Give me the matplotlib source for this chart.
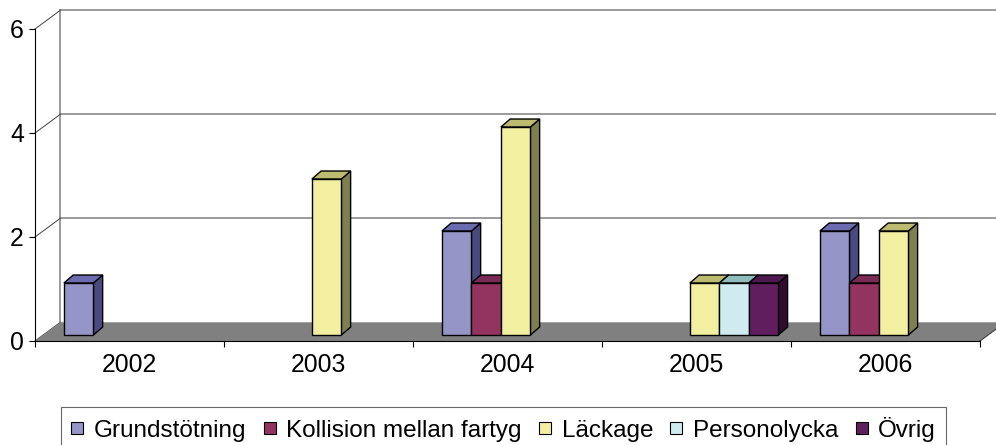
import matplotlib.pyplot as plt
from matplotlib.patches import Polygon
from matplotlib.lines import Line2D

years = ['2002', '2003', '2004', '2005', '2006']
series = ['Grundstötning', 'Kollision mellan fartyg', 'Läckage', 'Personolycka', 'Övrig']
grund = [1, 0, 2, 0, 2]
kollision = [0, 0, 1, 0, 1]
lackage = [0, 3, 4, 1, 2]
person = [0, 0, 0, 1, 0]
ovrig = [0, 0, 0, 1, 0]
yticks = [0, 2, 4, 6]

# face colours per series: front, top, right side
front_col = ['#9595c8', '#933360', '#f2f0a0', '#d0ebf0', '#601e5e']
top_col = ['#6b6bb0', '#7a2a55', '#bdbb70', '#90bcbc', '#4e1850']
side_col = ['#4a4a80', '#4a1a30', '#807f50', '#688890', '#300c30']

plt.rcParams['font.family'] = ['Liberation Sans', 'DejaVu Sans']

fig = plt.figure(figsize=(9.96, 4.45), dpi=100)
ax = fig.add_axes([35/996, 104/445, 945/996, 312/445])
ax.set_xlim(0, len(years))
ax.set_ylim(0, 6)
ax.patch.set_visible(False)

# 3d depth offsets (data units)
wall_dx, wall_dy = 0.134, 0.36
base_dx, base_dy = 0.043, 0.115
bar_dx, bar_dy = 0.049, 0.154
bw = 0.156
n = len(years)

# floor
ax.add_patch(Polygon([(0, 0), (n, 0), (n + wall_dx, wall_dy), (wall_dx, wall_dy)],
                     closed=True, fc='#808080', ec='none', clip_on=False, zorder=1))
ax.plot([n, n + wall_dx], [0, wall_dy], color='#404040', lw=0.8, clip_on=False, zorder=1.5)

# back wall grid + side wall
for y in yticks[1:]:
    ax.plot([wall_dx, n + wall_dx], [y + wall_dy] * 2, color='#808080', lw=1.1,
            clip_on=False, zorder=0.5)
ax.plot([wall_dx, wall_dx], [wall_dy, 6 + wall_dy], color='#808080', lw=1.1,
        clip_on=False, zorder=0.5)
for y in yticks:
    ax.plot([0, wall_dx], [y, y + wall_dy], color='#404040', lw=0.7,
            clip_on=False, zorder=0.6)

# bars
all_vals = [grund, kollision, lackage, person, ovrig]
for i in range(n):
    for j, vals in enumerate(all_vals):
        v = vals[i]
        if v == 0:
            continue
        x0 = i + (1 - len(series) * bw) / 2 + j * bw + base_dx
        y0 = base_dy
        x1 = x0 + bw
        y1 = y0 + v
        z = 3 + i * 10 + j
        side = [(x1, y0), (x1 + bar_dx, y0 + bar_dy), (x1 + bar_dx, y1 + bar_dy), (x1, y1)]
        top = [(x0, y1), (x1, y1), (x1 + bar_dx, y1 + bar_dy), (x0 + bar_dx, y1 + bar_dy)]
        front = [(x0, y0), (x1, y0), (x1, y1), (x0, y1)]
        ax.add_patch(Polygon(side, fc=side_col[j], ec='black', lw=1.0, zorder=z, clip_on=False))
        ax.add_patch(Polygon(top, fc=top_col[j], ec='black', lw=1.0, zorder=z, clip_on=False))
        ax.add_patch(Polygon(front, fc=front_col[j], ec='black', lw=1.0, zorder=z, clip_on=False))

# axes
for s in ['top', 'right']:
    ax.spines[s].set_visible(False)
ax.spines['left'].set_linewidth(0.8)
ax.spines['bottom'].set_linewidth(0.8)
ax.set_yticks(yticks)
ax.tick_params(axis='y', length=4, width=0.8, pad=4, labelsize=17.8)
ax.set_xticks(range(n + 1))
ax.set_xticklabels([])
ax.set_xticks([i + 0.5 for i in range(n)], minor=True)
ax.set_xticklabels(years, minor=True)
ax.tick_params(axis='x', which='major', length=4, width=0.8, direction='out')
ax.tick_params(axis='x', which='minor', length=0, pad=9, labelsize=17.8)

handles = [Line2D([], [], ls='none', marker='s', ms=9, mfc=c, mec='black', mew=0.8)
           for c in front_col]
leg = fig.legend(handles, series, loc='upper left', bbox_to_anchor=(61/996, 1 - 407/445),
                 ncol=5, fontsize=17.5, frameon=True, fancybox=False, borderaxespad=0,
                 borderpad=0.41, handlelength=0.53, handletextpad=0.41, columnspacing=0.7)
leg.get_frame().set_edgecolor('#404040')
leg.get_frame().set_linewidth(0.8)

fig.savefig('out.png', dpi=100)
